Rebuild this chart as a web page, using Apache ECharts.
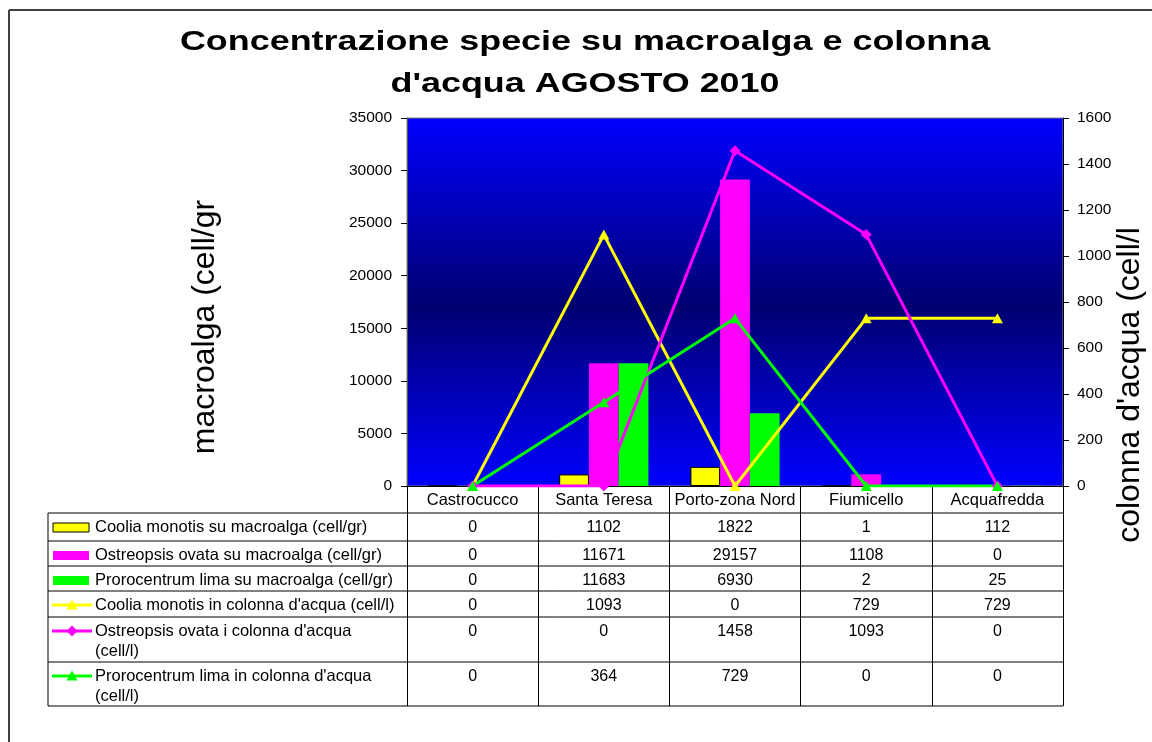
<!DOCTYPE html>
<html>
<head>
<meta charset="utf-8">
<title>Concentrazione specie su macroalga e colonna d'acqua AGOSTO 2010</title>
<script src="https://cdn.jsdelivr.net/npm/echarts@6/dist/echarts.min.js"></script>
<style>
  html, body { margin: 0; padding: 0; background: #fff; }
  #main { width: 1152px; height: 742px; }
</style>
</head>
<body>
<div id="main"></div>
<script>
// stazioni
const stazioni = ['Castrocucco', 'Santa Teresa', 'Porto-zona Nord', 'Fiumicello', 'Acquafredda'];

// macroalga (cell/gr) -> colonne, asse sinistro
const cooliaMacro = [0, 1102, 1822, 1, 112];
const ostreopsisMacro = [0, 11671, 29157, 1108, 0];
const prorocentrumMacro = [0, 11683, 6930, 2, 25];

// colonna d'acqua (cell/l) -> linee, asse destro
const cooliaAcqua = [0, 1093, 0, 729, 729];
const ostreopsisAcqua = [0, 0, 1458, 1093, 0];
const prorocentrumAcqua = [0, 364, 729, 0, 0];

const nomiSerie = [
  'Coolia monotis su macroalga (cell/gr)',
  'Ostreopsis ovata su macroalga (cell/gr)',
  'Prorocentrum lima su macroalga (cell/gr)',
  "Coolia monotis in colonna d'acqua (cell/l)",
  "Ostreopsis ovata i colonna d'acqua\n(cell/l)",
  "Prorocentrum lima in colonna d'acqua\n(cell/l)"
];

const FONT = '"Liberation Sans", Arial, Helvetica, sans-serif';
const GIALLO = '#FFFF00', MAGENTA = '#FF00FF', VERDE = '#00FF00';

const myChart = echarts.init(document.getElementById('main'));

const option = {
  animation: false,
  textStyle: { fontFamily: FONT },
  grid: {
    left: 407,
    right: 89,
    top: 118,
    bottom: 256,
    show: true,
    borderColor: '#808080',
    borderWidth: 1,
    backgroundColor: new echarts.graphic.LinearGradient(0, 0, 0, 1, [
      { offset: 0, color: '#0000FF' },
      { offset: 0.51, color: '#000070' },
      { offset: 1, color: '#0000FF' }
    ])
  },
  xAxis: {
    type: 'category',
    data: stazioni,
    boundaryGap: true,
    axisLine: { show: true, lineStyle: { color: '#000', width: 1 } },
    axisTick: { show: true, length: 220, lineStyle: { color: '#000', width: 1 } },
    axisLabel: { color: '#000', fontSize: 16.5, margin: 6, interval: 0 },
    splitLine: { show: false }
  },
  yAxis: [
    {
      type: 'value',
      min: 0,
      max: 35000,
      interval: 5000,
      position: 'left',
      axisLine: { show: true, lineStyle: { color: '#555', width: 1 } },
      axisTick: { show: true, length: 6, lineStyle: { color: '#000' } },
      axisLabel: { color: '#000', fontSize: 15.5, margin: 15, formatter: v => String(v) },
      splitLine: { show: false }
    },
    {
      type: 'value',
      min: 0,
      max: 1600,
      interval: 200,
      position: 'right',
      axisLine: { show: true, lineStyle: { color: '#000', width: 1 } },
      axisTick: { show: true, length: 6, lineStyle: { color: '#000' } },
      axisLabel: { color: '#000', fontSize: 15.5, margin: 14, formatter: v => String(v) },
      splitLine: { show: false }
    }
  ],
  series: [
    {
      name: nomiSerie[0], type: 'bar', yAxisIndex: 0, data: cooliaMacro,
      barGap: '0%', barCategoryGap: '32%',
      itemStyle: { color: GIALLO, borderColor: '#000', borderWidth: 1 }
    },
    {
      name: nomiSerie[1], type: 'bar', yAxisIndex: 0, data: ostreopsisMacro,
      itemStyle: { color: MAGENTA }
    },
    {
      name: nomiSerie[2], type: 'bar', yAxisIndex: 0, data: prorocentrumMacro,
      itemStyle: { color: VERDE }
    },
    {
      name: nomiSerie[3], type: 'line', yAxisIndex: 1, data: cooliaAcqua,
      symbol: 'triangle', symbolSize: [11, 10], z: 5,
      lineStyle: { color: GIALLO, width: 3 }, itemStyle: { color: GIALLO }
    },
    {
      name: nomiSerie[4], type: 'line', yAxisIndex: 1, data: ostreopsisAcqua,
      symbol: 'diamond', symbolSize: 11, z: 5,
      lineStyle: { color: MAGENTA, width: 3 }, itemStyle: { color: MAGENTA }
    },
    {
      name: nomiSerie[5], type: 'line', yAxisIndex: 1, data: prorocentrumAcqua,
      symbol: 'triangle', symbolSize: [11, 10], z: 5,
      lineStyle: { color: VERDE, width: 3 }, itemStyle: { color: VERDE }
    }
  ]
};

myChart.setOption(option);

// ---- tabella dati sotto il grafico ----
const tabLeft = 48, tabRight = 1063;
const righe = [513, 541, 566, 591, 617, 662];
const tabBottom = 706;
const valoriTabella = [cooliaMacro, ostreopsisMacro, prorocentrumMacro, cooliaAcqua, ostreopsisAcqua, prorocentrumAcqua];
const colori = [GIALLO, MAGENTA, VERDE, GIALLO, MAGENTA, VERDE];
const simboli = ['bar', 'bar', 'bar', 'triangle', 'diamond', 'triangle'];

const colX = stazioni.map(s => myChart.convertToPixel({ xAxisIndex: 0 }, s));

const graphic = [];

// cornice esterna
graphic.push({ type: 'line', shape: { x1: 9, y1: 10, x2: 1152, y2: 10 }, style: { stroke: '#404040', lineWidth: 2 } });
graphic.push({ type: 'line', shape: { x1: 9, y1: 10, x2: 9, y2: 742 }, style: { stroke: '#404040', lineWidth: 2 } });

// titolo
graphic.push({
  type: 'text', x: 585, y: 43, scaleX: 1.33,
  style: { text: 'Concentrazione specie su macroalga e colonna', x: 0, y: 0, align: 'center', verticalAlign: 'middle', font: 'bold 27px ' + FONT, fill: '#000' }
});
graphic.push({
  type: 'text', x: 585, y: 85, scaleX: 1.33,
  style: { text: "d'acqua AGOSTO 2010", x: 0, y: 0, align: 'center', verticalAlign: 'middle', font: 'bold 27px ' + FONT, fill: '#000' }
});

// titoli assi
graphic.push({
  type: 'text', x: 205, y: 327, rotation: Math.PI / 2,
  style: { text: 'macroalga (cell/gr', x: 0, y: 0, align: 'center', verticalAlign: 'middle', font: '32px ' + FONT, fill: '#000' }
});
graphic.push({
  type: 'text', x: 1130, y: 385, rotation: Math.PI / 2,
  style: { text: "colonna d'acqua (cell/l", x: 0, y: 0, align: 'center', verticalAlign: 'middle', font: '32px ' + FONT, fill: '#000' }
});

// linee orizzontali
righe.concat([tabBottom]).forEach(y => {
  graphic.push({ type: 'line', shape: { x1: tabLeft, y1: y, x2: tabRight, y2: y }, style: { stroke: '#000', lineWidth: 1 } });
});
graphic.push({ type: 'line', shape: { x1: tabLeft, y1: righe[0], x2: tabLeft, y2: tabBottom }, style: { stroke: '#000', lineWidth: 1 } });

righe.forEach((top, r) => {
  const cy = top + 14;
  const col = colori[r];
  // chiave legenda
  if (simboli[r] === 'bar') {
    graphic.push({
      type: 'rect', shape: { x: 53, y: cy - 4, width: 36, height: 9 },
      style: { fill: col, stroke: r === 0 ? '#000' : null, lineWidth: 1 }
    });
  } else {
    graphic.push({ type: 'line', shape: { x1: 52, y1: cy, x2: 92, y2: cy }, style: { stroke: col, lineWidth: 3 } });
    const pts = simboli[r] === 'diamond'
      ? [[72, cy - 5.5], [77.5, cy], [72, cy + 5.5], [66.5, cy]]
      : [[72, cy - 5.5], [77.5, cy + 4.5], [66.5, cy + 4.5]];
    graphic.push({ type: 'polygon', shape: { points: pts }, style: { fill: col } });
  }
  graphic.push({
    type: 'text',
    style: { text: nomiSerie[r], x: 95, y: top + 4, align: 'left', verticalAlign: 'top', lineHeight: 20.5, font: '16.5px ' + FONT, fill: '#000' }
  });
  valoriTabella[r].forEach((v, c) => {
    graphic.push({
      type: 'text',
      style: { text: String(v), x: colX[c], y: top + 4, align: 'center', verticalAlign: 'top', lineHeight: 20.5, font: '16px ' + FONT, fill: '#000' }
    });
  });
});

myChart.setOption({ graphic: graphic });
</script>
</body>
</html>
